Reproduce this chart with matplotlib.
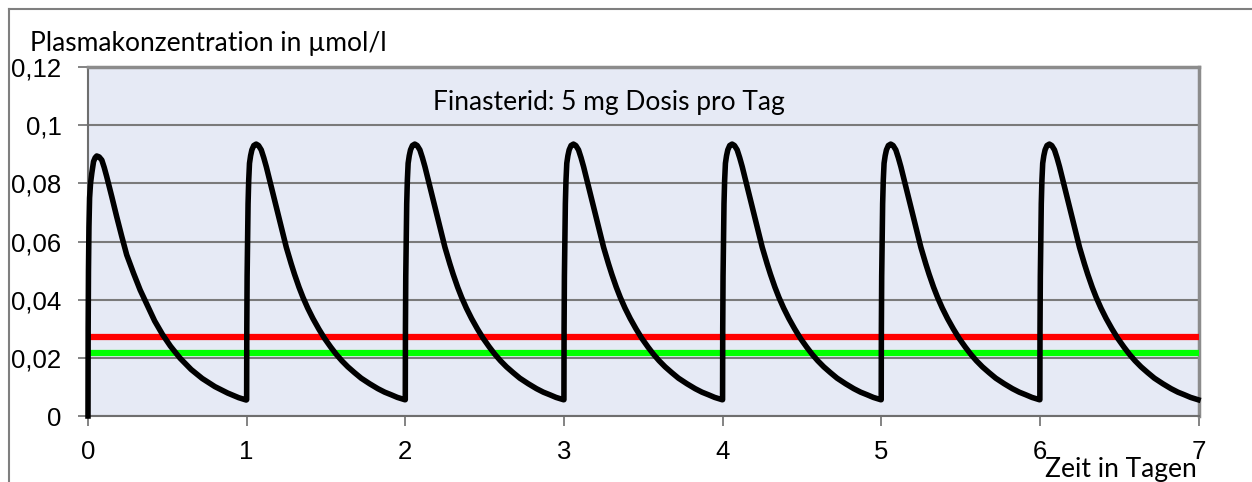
import matplotlib.pyplot as plt
from matplotlib.lines import Line2D

# Day 0 (first dose) - time in days, concentration in umol/l
day0_t = [0.0, 0.001, 0.003, 0.006, 0.010, 0.016, 0.024, 0.035, 0.045, 0.055, 0.070, 0.087,
          0.102, 0.118, 0.150, 0.181, 0.213, 0.244, 0.287, 0.329, 0.381, 0.42, 0.47, 0.52,
          0.58, 0.65, 0.72, 0.80, 0.88, 0.95, 0.997]
day0_c = [0.0, 0.030, 0.050, 0.065, 0.075, 0.080, 0.0835, 0.0875, 0.0888, 0.0894, 0.0891, 0.0880,
          0.0855, 0.0823, 0.0754, 0.0685, 0.0617, 0.0554, 0.0491, 0.0433, 0.0372, 0.0327, 0.0280, 0.0240,
          0.0199, 0.0160, 0.0129, 0.0101, 0.0079, 0.0063, 0.0055]

# repeating dosing cycle (days 1..6), time relative to the dose
cycle_t = [0.0, 0.001, 0.003, 0.006, 0.009, 0.013, 0.018, 0.025, 0.033, 0.045, 0.060, 0.075,
           0.092, 0.108, 0.124, 0.155, 0.187, 0.218, 0.250, 0.281, 0.302, 0.330, 0.355, 0.385,
           0.418, 0.455, 0.491, 0.530, 0.565, 0.600, 0.638, 0.680, 0.722, 0.775, 0.827, 0.870,
           0.911, 0.950, 0.997]
cycle_c = [0.0056, 0.030, 0.048, 0.062, 0.073, 0.081, 0.0869, 0.0895, 0.0915, 0.0930, 0.0935, 0.0930,
           0.0915, 0.0888, 0.0857, 0.0789, 0.0720, 0.0651, 0.0580, 0.0523, 0.0487, 0.0443, 0.0408, 0.0371,
           0.0335, 0.0299, 0.0267, 0.0237, 0.0212, 0.0190, 0.0169, 0.0149, 0.0130, 0.0111, 0.0094, 0.0082,
           0.0073, 0.0064, 0.0056]

n_days = 7
red_level = 0.027
green_level = 0.0215

yticks = [0, 0.02, 0.04, 0.06, 0.08, 0.1, 0.12]
ytick_labels = ['0', '0,02', '0,04', '0,06', '0,08', '0,1', '0,12']
xticks = [0, 1, 2, 3, 4, 5, 6, 7]

t = list(day0_t)
c = list(day0_c)
for d in range(1, n_days):
    t += [d + v for v in cycle_t]
    c += cycle_c

fig = plt.figure(figsize=(12.52, 4.82), dpi=100)
ax = fig.add_axes([88/1252, 1 - 416/482, (1198.5-88)/1252, (416-67)/482])
ax.set_facecolor('#E6EAF5')

ax.set_xlim(0, 7)
ax.set_ylim(0, 0.12)
ax.set_yticks(yticks)
ax.set_yticklabels(ytick_labels)
ax.set_xticks(xticks)
ax.set_xticklabels([str(v) for v in xticks])
ax.yaxis.grid(True, color='#7a7a7a', lw=1.5)
ax.set_axisbelow(True)

for s in ['top', 'right']:
    ax.spines[s].set_color('#8c8c8c')
    ax.spines[s].set_linewidth(2.5)
for s in ['left', 'bottom']:
    ax.spines[s].set_color('#6e6e6e')
    ax.spines[s].set_linewidth(1.5)

ax.tick_params(axis='both', direction='out', length=7, width=1.2, color='#6e6e6e')
ax.tick_params(axis='y', pad=12)
ax.tick_params(axis='x', pad=10)
for lbl in ax.get_xticklabels() + ax.get_yticklabels():
    lbl.set_fontfamily('Liberation Sans')
    lbl.set_fontsize(18.5)

ax.axhline(red_level, color='#FF0000', lw=4.5, zorder=3)
ax.axhline(green_level, color='#00FF00', lw=4.5, zorder=3)
ax.plot(t, c, color='black', lw=4, zorder=4, solid_joinstyle='round', clip_on=False)

fig.text(30/1252, 1 - 44/482, 'Plasmakonzentration in µmol/l', fontsize=19, family='Lato',
         va='center', ha='left')
ax.text(0.469, 0.897, 'Finasterid: 5 mg Dosis pro Tag', transform=ax.transAxes, fontsize=19,
        family='Lato', va='center', ha='center')
fig.text(1197/1252, 1 - 469/482, 'Zeit in Tagen', fontsize=19, family='Lato',
         va='center', ha='right')

# chart frame
fig.add_artist(Line2D([9/1252, 1.0], [1 - 9/482, 1 - 9/482], color='#7f7f7f', lw=1.5))
fig.add_artist(Line2D([9/1252, 9/1252], [0, 1 - 9/482], color='#7f7f7f', lw=1.5))

plt.savefig('out.png', dpi=100)
